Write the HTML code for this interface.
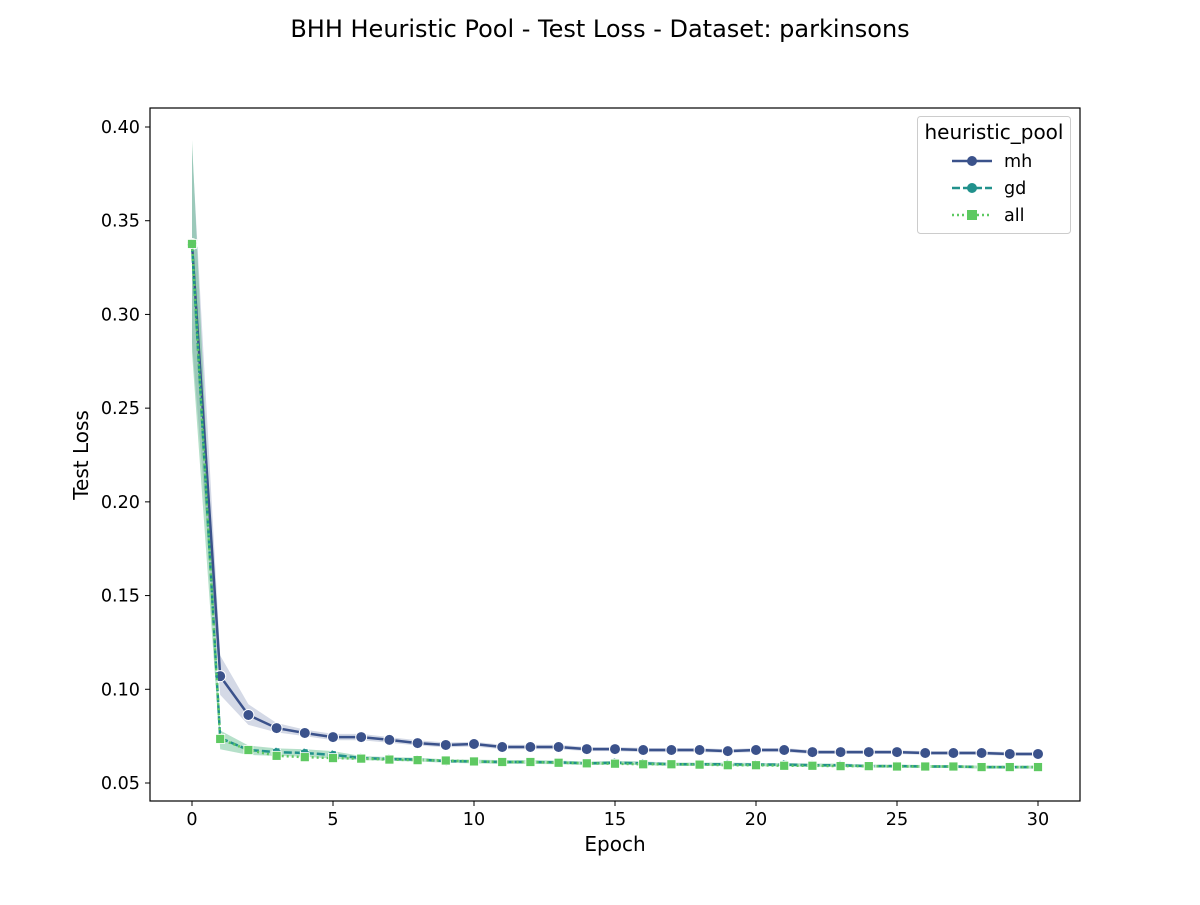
<!DOCTYPE html>
<html><head><meta charset="utf-8"><style>
html,body{margin:0;padding:0;background:#fff;}
svg text{font-family:"DejaVu Sans","Liberation Sans",sans-serif;fill:#000;}
</style></head><body>
<svg id="chart" width="1200" height="900" xmlns="http://www.w3.org/2000/svg">
<text x="600" y="37" font-size="24" text-anchor="middle">BHH Heuristic Pool - Test Loss - Dataset: parkinsons</text>
<g id="bands"></g><g id="lines"></g>
<rect x="150" y="108" width="930" height="693" fill="none" stroke="#000" stroke-width="1.2"/>
<g id="axes"></g>
<text x="615" y="851" font-size="20" text-anchor="middle">Epoch</text>
<text transform="translate(88,455) rotate(-90)" font-size="20" text-anchor="middle">Test Loss</text>
<g>
<rect x="917.5" y="116.5" width="153" height="117" rx="3" fill="#fff" stroke="#ccc"/>
<text x="994" y="139" font-size="20" text-anchor="middle">heuristic_pool</text>
<g><line x1="952" y1="161" x2="992" y2="161" stroke="#3b528b" stroke-width="2.5"/><circle cx="972" cy="161" r="5" fill="#3b528b"/><text x="1004" y="167" font-size="17.6">mh</text></g>
<g><line x1="952" y1="188" x2="992" y2="188" stroke="#21918c" stroke-width="2.5" stroke-dasharray="8,3"/><circle cx="972" cy="188" r="5" fill="#21918c"/><text x="1004" y="194" font-size="17.6">gd</text></g>
<g><line x1="952" y1="215" x2="992" y2="215" stroke="#5ec962" stroke-width="2.5" stroke-dasharray="2,3"/><rect x="967" y="210" width="10" height="10" fill="#5ec962"/><text x="1004" y="221" font-size="17.6">all</text></g>
</g>
</svg>
<script>
const epochs=[...Array(31).keys()];
const mhVals=[0.3376,0.107,0.0863,0.0793,0.0767,0.0745,0.0745,0.073,0.0713,0.0703,0.0708,0.0692,0.0692,0.0692,0.0681,0.0681,0.0676,0.0676,0.0676,0.067,0.0676,0.0676,0.0665,0.0665,0.0665,0.0665,0.066,0.066,0.066,0.0655,0.0655];
const gdVals=[0.3376,0.074,0.0676,0.0665,0.066,0.065,0.0633,0.0628,0.0625,0.0617,0.0615,0.0612,0.0612,0.061,0.0605,0.0608,0.0605,0.06,0.06,0.06,0.0598,0.0598,0.0595,0.0595,0.059,0.059,0.0588,0.0588,0.0585,0.0585,0.0585];
const allVals=[0.3376,0.0735,0.0676,0.0645,0.0638,0.0633,0.063,0.0625,0.0622,0.062,0.0615,0.0612,0.0612,0.0608,0.0605,0.0603,0.06,0.06,0.0598,0.0595,0.0595,0.0592,0.0592,0.059,0.059,0.0588,0.0588,0.0588,0.0585,0.0585,0.0585];
const mhLo=[0.285,0.097,0.081,0.077,0.075,0.0728,0.0728,0.0715,0.07,0.069,0.0695,0.068,0.068,0.068,0.067,0.067,0.0665,0.0665,0.0665,0.066,0.0665,0.0665,0.0655,0.0655,0.0655,0.0655,0.065,0.065,0.065,0.0645,0.0645];
const mhHi=[0.39,0.118,0.092,0.082,0.0785,0.0762,0.0762,0.0745,0.0728,0.0716,0.072,0.0704,0.0704,0.0704,0.0692,0.0692,0.0687,0.0687,0.0687,0.068,0.0687,0.0687,0.0675,0.0675,0.0675,0.0675,0.067,0.067,0.067,0.0665,0.0665];
const gdLo=[0.28,0.068,0.065,0.0645,0.064,0.063,0.0622,0.0618,0.0615,0.0608,0.0605,0.0602,0.0602,0.06,0.0596,0.0598,0.0595,0.0591,0.0591,0.0591,0.0589,0.0589,0.0586,0.0586,0.0582,0.0582,0.058,0.058,0.0577,0.0577,0.0577];
const gdHi=[0.393,0.078,0.07,0.0685,0.068,0.067,0.0644,0.0638,0.0635,0.0626,0.0625,0.0622,0.0622,0.062,0.0614,0.0618,0.0615,0.0609,0.0609,0.0609,0.0607,0.0607,0.0604,0.0604,0.0598,0.0598,0.0596,0.0596,0.0593,0.0593,0.0593];
const xTicks=[0,5,10,15,20,25,30];
const yTicks=[0.05,0.10,0.15,0.20,0.25,0.30,0.35,0.40];
const xs=e=>192+(e)*(1038-192)/30;
const ys=v=>783-(v-0.05)*(783-127)/0.35;
const NS='http://www.w3.org/2000/svg';
function mk(tag,attrs,parent){const el=document.createElementNS(NS,tag);for(const k in attrs)el.setAttribute(k,attrs[k]);parent.appendChild(el);return el;}
const bands=document.getElementById('bands'),lines=document.getElementById('lines'),axes=document.getElementById('axes');
function band(lo,hi,color,name){
  let d='M'+epochs.map(e=>xs(e)+','+ys(hi[e])).join(' L')+' L'+epochs.slice().reverse().map(e=>xs(e)+','+ys(lo[e])).join(' L')+'Z';
  const p=mk('path',{d:d,fill:color,'fill-opacity':0.22},bands);
  
  
}
band(mhLo,mhHi,'#3b528b','band-mh');
band(gdLo,gdHi,'#21918c','band-gd');
band(gdLo,gdHi,'#5ec962','band-all');
function series(vals,color,dash,marker,name){
  const g=mk('g',{},lines);
  
  
  const attrs={points:epochs.map(e=>xs(e)+','+ys(vals[e])).join(' '),fill:'none',stroke:color,'stroke-width':2.5};
  if(dash)attrs['stroke-dasharray']=dash;
  mk('polyline',attrs,g);
  epochs.forEach(e=>{
    let m;
    if(marker==='circle')m=mk('circle',{cx:xs(e),cy:ys(vals[e]),r:5.5,fill:color,stroke:'#fff','stroke-width':1},g);
    else if(marker==='x')m=mk('circle',{cx:xs(e),cy:ys(vals[e]),r:4.5,fill:color,stroke:'#fff','stroke-width':1,'stroke-dasharray':'2,1.5'},g);
    else m=mk('rect',{x:xs(e)-4.5,y:ys(vals[e])-4.5,width:9,height:9,fill:color,stroke:'#fff','stroke-width':0.8},g);
    
    
  });
}
series(mhVals,'#3b528b',null,'circle','series-mh');
series(gdVals,'#21918c','8,3','x','series-gd');
series(allVals,'#5ec962','2,3','sq','series-all');
xTicks.forEach(t=>{
  const l=mk('line',{x1:xs(t),x2:xs(t),y1:801,y2:806,stroke:'#000'},axes);
  
  
  const tx=mk('text',{x:xs(t),y:825,'font-size':17.6,'text-anchor':'middle'},axes);tx.textContent=t;
  
  
});
yTicks.forEach(t=>{
  const l=mk('line',{x1:145,x2:150,y1:ys(t),y2:ys(t),stroke:'#000'},axes);
  
  
  const tx=mk('text',{x:140,y:ys(t)+6,'font-size':17.6,'text-anchor':'end'},axes);tx.textContent=t.toFixed(2);
  
  
});
</script>
</body></html>
